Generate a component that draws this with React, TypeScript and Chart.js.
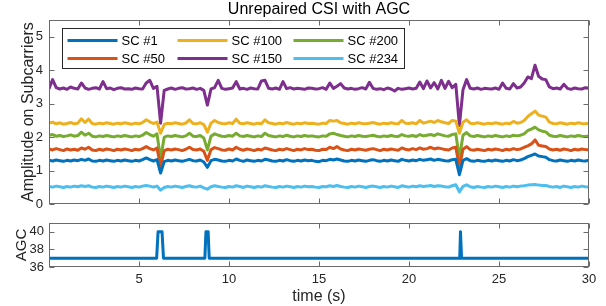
import React, { useEffect, useRef } from 'react';
import { Chart, registerables } from 'chart.js';

Chart.register(...registerables);
Chart.defaults.font.family = '"Liberation Sans", Arial, Helvetica, sans-serif';

// ---- data ----
const timeStep = 0.2;
const sampleCount = 151;
const times: number[] = Array.from({ length: sampleCount }, (_, i) => Math.round(i * timeStep * 10) / 10);

const seriesLabels = ['SC #1', 'SC #50', 'SC #100', 'SC #150', 'SC #200', 'SC #234'];
const seriesColors = ['#0072BD', '#D95319', '#EDB120', '#7E2F8E', '#77AC30', '#4DBEEE'];

const sc1 = [
  1.31, 1.29, 1.32, 1.30, 1.28, 1.31, 1.29, 1.32, 1.30, 1.34,
  1.31, 1.35, 1.29, 1.28, 1.31, 1.29, 1.32, 1.30, 1.28, 1.31,
  1.29, 1.32, 1.30, 1.28, 1.31, 1.29, 1.33, 1.38, 1.33, 1.29,
  1.33, 0.93, 1.27, 1.31, 1.29, 1.32, 1.30, 1.28, 1.31, 1.34,
  1.30, 1.29, 1.32, 1.26, 1.10, 1.30, 1.34, 1.32, 1.29, 1.28,
  1.31, 1.29, 1.35, 1.31, 1.28, 1.32, 1.30, 1.28, 1.31, 1.29,
  1.34, 1.32, 1.29, 1.28, 1.31, 1.29, 1.33, 1.30, 1.28, 1.31,
  1.29, 1.32, 1.30, 1.31, 1.28, 1.27, 1.31, 1.30, 1.34, 1.32,
  1.35, 1.32, 1.29, 1.28, 1.31, 1.29, 1.32, 1.30, 1.28, 1.31,
  1.33, 1.30, 1.28, 1.31, 1.29, 1.32, 1.30, 1.28, 1.34, 1.31,
  1.29, 1.32, 1.30, 1.34, 1.31, 1.33, 1.35, 1.31, 1.34, 1.32,
  1.30, 1.29, 1.33, 1.34, 0.88, 1.31, 1.36, 1.30, 1.28, 1.31,
  1.29, 1.28, 1.31, 1.29, 1.32, 1.30, 1.28, 1.31, 1.29, 1.33,
  1.30, 1.32, 1.36, 1.42, 1.46, 1.50, 1.44, 1.42, 1.40, 1.33,
  1.30, 1.29, 1.32, 1.30, 1.28, 1.31, 1.29, 1.32, 1.30, 1.29, 1.31,
];

const sc50 = [
  1.65, 1.62, 1.66, 1.63, 1.60, 1.65, 1.62, 1.64, 1.61, 1.68,
  1.64, 1.70, 1.62, 1.60, 1.64, 1.61, 1.65, 1.63, 1.60, 1.64,
  1.62, 1.65, 1.63, 1.60, 1.64, 1.62, 1.66, 1.72, 1.66, 1.62,
  1.68, 1.13, 1.60, 1.64, 1.62, 1.65, 1.63, 1.60, 1.64, 1.70,
  1.63, 1.62, 1.65, 1.58, 1.31, 1.63, 1.69, 1.66, 1.62, 1.61,
  1.65, 1.62, 1.70, 1.64, 1.61, 1.65, 1.63, 1.60, 1.64, 1.62,
  1.68, 1.65, 1.62, 1.60, 1.64, 1.62, 1.66, 1.63, 1.60, 1.64,
  1.62, 1.66, 1.63, 1.64, 1.61, 1.60, 1.64, 1.63, 1.70, 1.66,
  1.72, 1.65, 1.62, 1.60, 1.64, 1.62, 1.65, 1.63, 1.61, 1.64,
  1.66, 1.63, 1.60, 1.64, 1.62, 1.65, 1.63, 1.61, 1.68, 1.64,
  1.62, 1.66, 1.63, 1.68, 1.64, 1.66, 1.70, 1.65, 1.68, 1.66,
  1.63, 1.62, 1.68, 1.70, 1.11, 1.64, 1.72, 1.63, 1.61, 1.64,
  1.62, 1.60, 1.64, 1.62, 1.65, 1.63, 1.60, 1.64, 1.62, 1.66,
  1.63, 1.65, 1.70, 1.74, 1.80, 1.92, 1.76, 1.74, 1.72, 1.65,
  1.62, 1.64, 1.61, 1.65, 1.63, 1.60, 1.64, 1.62, 1.65, 1.63, 1.62,
];

const sc100 = [
  2.42, 2.45, 2.40, 2.43, 2.39, 2.41, 2.44, 2.40, 2.42, 2.55,
  2.44, 2.54, 2.41, 2.39, 2.42, 2.40, 2.43, 2.41, 2.39, 2.42,
  2.40, 2.43, 2.41, 2.39, 2.42, 2.40, 2.44, 2.52, 2.46, 2.41,
  2.45, 2.12, 2.38, 2.42, 2.40, 2.43, 2.41, 2.39, 2.42, 2.52,
  2.41, 2.40, 2.43, 2.38, 2.15, 2.42, 2.50, 2.44, 2.41, 2.40,
  2.43, 2.41, 2.54, 2.42, 2.40, 2.43, 2.41, 2.39, 2.42, 2.40,
  2.52, 2.43, 2.41, 2.39, 2.42, 2.40, 2.44, 2.41, 2.39, 2.42,
  2.40, 2.43, 2.41, 2.42, 2.40, 2.39, 2.42, 2.41, 2.50, 2.48,
  2.50, 2.43, 2.41, 2.39, 2.42, 2.40, 2.43, 2.41, 2.40, 2.42,
  2.44, 2.41, 2.39, 2.42, 2.40, 2.43, 2.41, 2.40, 2.50, 2.42,
  2.41, 2.43, 2.40, 2.50, 2.42, 2.45, 2.48, 2.44, 2.50, 2.46,
  2.43, 2.41, 2.50, 2.48, 2.12, 2.45, 2.52, 2.42, 2.40, 2.43,
  2.41, 2.39, 2.42, 2.40, 2.43, 2.41, 2.39, 2.42, 2.40, 2.47,
  2.42, 2.44, 2.50, 2.62, 2.70, 2.78, 2.66, 2.63, 2.60, 2.45,
  2.41, 2.40, 2.43, 2.41, 2.39, 2.42, 2.40, 2.43, 2.41, 2.40, 2.42,
];

const sc150 = [
  3.45, 3.72, 3.48, 3.44, 3.47, 3.43, 3.50, 3.46, 3.44, 3.62,
  3.47, 3.43, 3.46, 3.48, 3.44, 3.66, 3.45, 3.47, 3.42, 3.46,
  3.48, 3.44, 3.45, 3.43, 3.47, 3.45, 3.44, 3.62, 3.70, 3.46,
  3.52, 2.42, 3.40, 3.44, 3.47, 3.43, 3.46, 3.48, 3.44, 3.45,
  3.47, 3.43, 3.46, 3.40, 2.96, 3.44, 3.48, 3.70, 3.46, 3.43,
  3.45, 3.47, 3.66, 3.44, 3.46, 3.43, 3.47, 3.45, 3.44, 3.68,
  3.70, 3.46, 3.44, 3.47, 3.43, 3.66, 3.45, 3.48, 3.44, 3.46,
  3.45, 3.43, 3.47, 3.46, 3.44, 3.45, 3.48, 3.43, 3.62, 3.46,
  3.52, 3.60, 3.47, 3.44, 3.46, 3.43, 3.45, 3.48, 3.44, 3.64,
  3.46, 3.43, 3.45, 3.42, 3.47, 3.44, 3.38, 3.46, 3.43, 3.45,
  3.47, 3.44, 3.46, 3.65, 3.45, 3.68, 3.47, 3.63, 3.44, 3.70,
  3.46, 3.67, 3.48, 3.58, 2.35, 3.42, 3.72, 3.46, 3.44, 3.47,
  3.43, 3.46, 3.45, 3.44, 3.47, 3.43, 3.62, 3.46, 3.44, 3.60,
  3.47, 3.50, 3.62, 3.80, 3.75, 4.15, 3.82, 3.74, 3.72, 3.50,
  3.45, 3.47, 3.44, 3.58, 3.46, 3.43, 3.47, 3.45, 3.44, 3.48, 3.46,
];

const sc200 = [
  2.06, 2.08, 2.03, 2.05, 2.02, 2.04, 2.07, 2.03, 2.05, 2.15,
  2.06, 2.12, 2.03, 2.01, 2.04, 2.02, 2.05, 2.03, 2.01, 2.04,
  2.02, 2.05, 2.03, 2.01, 2.04, 2.02, 2.06, 2.14, 2.08, 2.03,
  2.10, 1.35, 2.00, 2.04, 2.02, 2.05, 2.03, 2.01, 2.04, 2.12,
  2.03, 2.02, 2.05, 1.98, 1.62, 2.03, 2.10, 2.06, 2.03, 2.02,
  2.05, 2.03, 2.12, 2.04, 2.02, 2.05, 2.03, 2.01, 2.04, 2.02,
  2.12, 2.05, 2.03, 2.01, 2.04, 2.02, 2.06, 2.03, 2.01, 2.04,
  2.02, 2.05, 2.03, 2.04, 2.02, 2.01, 2.04, 2.03, 2.10, 2.12,
  2.08, 2.05, 2.03, 2.01, 2.04, 2.02, 2.05, 2.03, 2.02, 2.04,
  2.06, 2.03, 2.01, 2.04, 2.02, 2.05, 2.03, 2.02, 2.08, 2.04,
  2.03, 2.05, 2.02, 2.08, 2.04, 2.06, 2.08, 2.05, 2.10, 2.07,
  2.04, 2.03, 2.08, 2.10, 1.37, 2.06, 2.14, 2.04, 2.02, 2.05,
  2.03, 2.01, 2.04, 2.02, 2.05, 2.03, 2.01, 2.04, 2.02, 2.06,
  2.04, 2.06, 2.10, 2.20, 2.24, 2.30, 2.22, 2.18, 2.16, 2.06,
  2.03, 2.02, 2.05, 2.03, 2.01, 2.04, 2.02, 2.05, 2.03, 2.02, 2.04,
];

const sc234 = [
  0.53, 0.51, 0.54, 0.52, 0.50, 0.53, 0.51, 0.54, 0.52, 0.55,
  0.53, 0.55, 0.51, 0.50, 0.53, 0.51, 0.54, 0.52, 0.50, 0.53,
  0.51, 0.54, 0.52, 0.50, 0.53, 0.51, 0.54, 0.56, 0.54, 0.51,
  0.54, 0.42, 0.50, 0.53, 0.51, 0.54, 0.52, 0.50, 0.53, 0.55,
  0.52, 0.51, 0.54, 0.49, 0.45, 0.52, 0.55, 0.53, 0.51, 0.50,
  0.53, 0.51, 0.55, 0.53, 0.50, 0.54, 0.52, 0.50, 0.53, 0.51,
  0.55, 0.53, 0.51, 0.50, 0.53, 0.51, 0.54, 0.52, 0.50, 0.53,
  0.51, 0.54, 0.52, 0.53, 0.51, 0.50, 0.53, 0.52, 0.55, 0.53,
  0.56, 0.53, 0.51, 0.50, 0.53, 0.51, 0.54, 0.52, 0.50, 0.53,
  0.54, 0.52, 0.50, 0.53, 0.51, 0.54, 0.52, 0.50, 0.55, 0.53,
  0.51, 0.54, 0.52, 0.55, 0.53, 0.54, 0.56, 0.53, 0.55, 0.54,
  0.52, 0.51, 0.55, 0.58, 0.37, 0.53, 0.58, 0.52, 0.50, 0.53,
  0.51, 0.50, 0.53, 0.51, 0.54, 0.52, 0.50, 0.53, 0.51, 0.54,
  0.52, 0.54, 0.55, 0.57, 0.58, 0.59, 0.57, 0.56, 0.56, 0.53,
  0.51, 0.53, 0.50, 0.54, 0.52, 0.50, 0.53, 0.51, 0.54, 0.52, 0.51,
];

const seriesValues = [sc1, sc50, sc100, sc150, sc200, sc234];

const agcTimes = [0, 5.98, 6.06, 6.28, 6.36, 8.66, 8.72, 8.84, 8.9, 22.82, 22.86, 22.88, 22.92, 30];
const agcValues = [37, 37, 40, 40, 37, 37, 40, 40, 37, 37, 40, 40, 37, 37];

const xTickValues = [5, 10, 15, 20, 25, 30];
const topYTickValues = [0, 1, 2, 3, 4, 5];
const agcYTickValues = [36, 38, 40];

const titleText = 'Unrepaired CSI with AGC';
const topYLabel = 'Amplitude on Subcarriers';
const agcYLabel = 'AGC';
const xLabel = 'time (s)';

// ---- styling ----
const TEXT = '#262626';
const FRAME = '#6a6a6a';
const FONT = '"Liberation Sans", Arial, Helvetica, sans-serif';

const framePlugin = {
  id: 'frame',
  afterDatasetsDraw(chart: any, _args: any, opts: any) {
    const { ctx, chartArea: a, scales } = chart;
    const xs = scales.x;
    const ys = scales.y;
    const L = Math.round(a.left) + 0.5;
    const R = Math.round(a.right) - 0.5;
    const T = Math.round(a.top) + 0.5;
    const B = Math.round(a.bottom) - 0.5;
    const len = 5;
    ctx.save();
    ctx.strokeStyle = FRAME;
    ctx.lineWidth = 1;
    ctx.beginPath();
    xTickValues.forEach((v) => {
      const p = Math.round(xs.getPixelForValue(v)) + 0.5;
      ctx.moveTo(p, B);
      ctx.lineTo(p, B - len);
      ctx.moveTo(p, T);
      ctx.lineTo(p, T + len);
    });
    (opts.yTicks || []).forEach((v: number) => {
      const p = Math.round(ys.getPixelForValue(v)) + 0.5;
      ctx.moveTo(L, p);
      ctx.lineTo(L + len, p);
      ctx.moveTo(R, p);
      ctx.lineTo(R - len, p);
    });
    ctx.stroke();
    ctx.strokeRect(L, T, R - L, B - T);
    ctx.restore();
  },
};

const legendColOffsets = [5, 115, 231];

const legendPlugin = {
  id: 'boxLegend',
  afterDraw(chart: any) {
    const { ctx, chartArea: a } = chart;
    const bx = Math.round(a.left) + 13 + 0.5;
    const by = Math.round(a.top) + 8 + 0.5;
    const bw = 342;
    const bh = 40;
    ctx.save();
    ctx.fillStyle = '#ffffff';
    ctx.fillRect(bx, by, bw, bh);
    ctx.strokeStyle = '#262626';
    ctx.lineWidth = 1;
    ctx.strokeRect(bx, by, bw, bh);
    ctx.font = `13px ${FONT}`;
    ctx.textBaseline = 'middle';
    ctx.textAlign = 'left';
    chart.data.datasets.forEach((ds: any, i: number) => {
      const col = Math.floor(i / 2);
      const row = i % 2;
      const lx = bx + legendColOffsets[col];
      const ly = by + 12 + row * 18;
      ctx.strokeStyle = ds.borderColor;
      ctx.lineWidth = 3;
      ctx.beginPath();
      ctx.moveTo(lx, ly);
      ctx.lineTo(lx + 50, ly);
      ctx.stroke();
      ctx.fillStyle = '#000000';
      ctx.fillText(ds.label, lx + 54, ly + 0.5);
    });
    ctx.restore();
  },
};

const titlePlugin = {
  id: 'plotTitle',
  afterDraw(chart: any) {
    const { ctx, chartArea: a } = chart;
    ctx.save();
    ctx.font = `16px ${FONT}`;
    ctx.fillStyle = '#000000';
    ctx.textAlign = 'center';
    ctx.textBaseline = 'middle';
    ctx.fillText(titleText, (a.left + a.right) / 2, 9.5);
    ctx.restore();
  },
};

export default function App() {
  const topRef = useRef<HTMLCanvasElement | null>(null);
  const botRef = useRef<HTMLCanvasElement | null>(null);

  useEffect(() => {
    if (!topRef.current || !botRef.current) return;

    const topChart = new Chart(topRef.current, {
      type: 'line',
      data: {
        datasets: seriesLabels.map((label, k) => ({
          label,
          data: times.map((t, i) => ({ x: t, y: seriesValues[k][i] })),
          borderColor: seriesColors[k],
          backgroundColor: seriesColors[k],
          borderWidth: 3,
          pointRadius: 0,
          tension: 0,
          fill: false,
          borderJoinStyle: 'round',
          borderCapStyle: 'round',
        })),
      },
      options: {
        animation: false,
        responsive: false,
        maintainAspectRatio: false,
        events: [],
        layout: { padding: { top: 20, right: 17, bottom: 0, left: 0 } },
        plugins: {
          legend: { display: false },
          title: { display: false },
          tooltip: { enabled: false },
          frame: { yTicks: topYTickValues },
        } as any,
        scales: {
          x: { type: 'linear', min: 0, max: 30, display: false },
          y: {
            type: 'linear',
            min: 0,
            max: 5.5,
            grid: { display: false, drawTicks: false },
            border: { display: false },
            ticks: { font: { size: 13 }, color: TEXT, padding: 6 },
            afterBuildTicks: (s: any) => {
              s.ticks = topYTickValues.map((v) => ({ value: v }));
            },
            afterFit: (s: any) => {
              s.width = 49;
            },
            title: {
              display: true,
              text: topYLabel,
              font: { size: 16 },
              color: TEXT,
              padding: { top: 19, bottom: 0 },
            },
          },
        },
      } as any,
      plugins: [framePlugin, legendPlugin, titlePlugin],
    });

    const botChart = new Chart(botRef.current, {
      type: 'line',
      data: {
        datasets: [
          {
            label: 'AGC',
            data: agcTimes.map((t, i) => ({ x: t, y: agcValues[i] })),
            borderColor: seriesColors[0],
            backgroundColor: seriesColors[0],
            borderWidth: 3,
            pointRadius: 0,
            tension: 0,
            fill: false,
            borderJoinStyle: 'round',
          },
        ],
      },
      options: {
        animation: false,
        responsive: false,
        maintainAspectRatio: false,
        events: [],
        layout: { padding: { top: 0, right: 17, bottom: 0, left: 0 } },
        plugins: {
          legend: { display: false },
          title: { display: false },
          tooltip: { enabled: false },
          frame: { yTicks: agcYTickValues },
        } as any,
        scales: {
          x: {
            type: 'linear',
            min: 0,
            max: 30,
            grid: { display: false, drawTicks: false },
            border: { display: false },
            ticks: { font: { size: 13 }, color: TEXT, padding: 5, autoSkip: false, maxRotation: 0 },
            afterBuildTicks: (s: any) => {
              s.ticks = xTickValues.map((v) => ({ value: v }));
            },
            afterFit: (s: any) => {
              s.height = 39;
            },
            title: {
              display: true,
              text: xLabel,
              font: { size: 16 },
              color: TEXT,
              padding: { top: 0, bottom: 0 },
            },
          },
          y: {
            type: 'linear',
            min: 36,
            max: 41,
            grid: { display: false, drawTicks: false },
            border: { display: false },
            ticks: { font: { size: 13 }, color: TEXT, padding: 5 },
            afterBuildTicks: (s: any) => {
              s.ticks = agcYTickValues.map((v) => ({ value: v }));
            },
            afterFit: (s: any) => {
              s.width = 49;
            },
            title: {
              display: true,
              text: agcYLabel,
              font: { size: 15 },
              color: TEXT,
              padding: { top: 12.5, bottom: 0 },
            },
          },
        },
      } as any,
      plugins: [framePlugin],
    });

    return () => {
      topChart.destroy();
      botChart.destroy();
    };
  }, []);

  return (
    <div style={{ position: 'absolute', left: 0, top: 0, width: 606, height: 306, background: '#fff' }}>
      <canvas ref={topRef} width={606} height={218} style={{ position: 'absolute', left: 0, top: 0, display: 'block' }} />
      <canvas ref={botRef} width={606} height={96} style={{ position: 'absolute', left: 0, top: 210, display: 'block' }} />
    </div>
  );
}
